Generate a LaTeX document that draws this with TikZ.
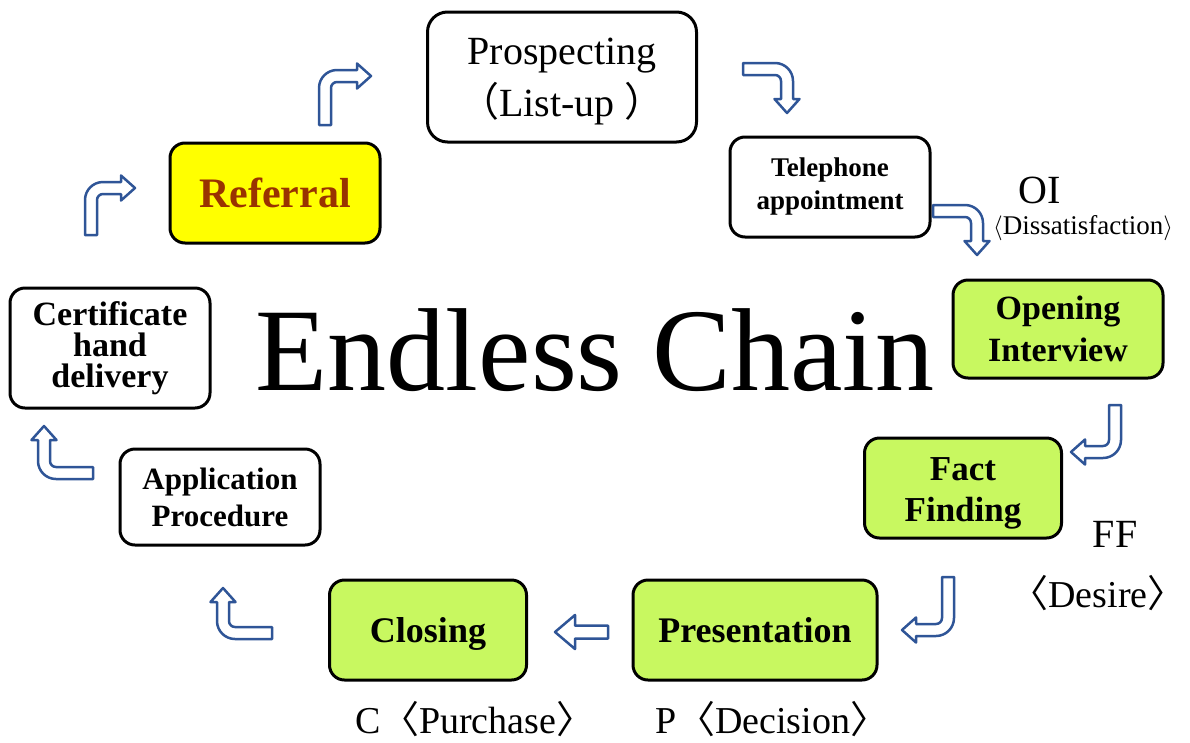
\documentclass[tikz,border=0pt]{standalone}
\usepackage{fontspec}
\setmainfont{Liberation Serif}
\newfontfamily\cjk{Noto Sans CJK SC}
\definecolor{arrblue}{RGB}{47,85,151}
\definecolor{lgreen}{RGB}{200,248,96}
\definecolor{refyellow}{RGB}{255,255,0}
\definecolor{refbrown}{RGB}{153,51,0}
\newcommand\arA{6}
\newcommand\arH{12.5}
\newcommand\arL{14}
\newcommand\arR{12}
\newcommand\arK{0.5523}
\tikzset{
  box/.style={draw=black, line width=3pt, rounded corners=15pt, align=center, inner sep=0pt, text=black},
  plainbox/.style={box, fill=white},
  greenbox/.style={box, fill=lgreen},
  blockarrow/.style={draw=arrblue, fill=white, line width=2.5pt, line join=round},
  lbl/.style={anchor=base, inner sep=0pt},
  boxtext/.style={align=center, inner sep=0pt, text=black}
}
\newcommand\bentarr[5]{%
\begin{scope}[shift={(#1,#2)},rotate=#3]
\def\La{#4}\def\Lb{#5}
\path[blockarrow] (0,-\arA) -- ({\La-\arR},-\arA)
  .. controls ({\La-\arR+\arK*(\arR+\arA)},-\arA) and ({\La+\arA},{\arR-\arK*(\arR+\arA)}) .. ({\La+\arA},\arR)
  -- ({\La+\arA},{\Lb-\arL}) -- ({\La+\arH},{\Lb-\arL}) -- (\La,\Lb) -- ({\La-\arH},{\Lb-\arL}) -- ({\La-\arA},{\Lb-\arL})
  -- ({\La-\arA},\arR)
  .. controls ({\La-\arA},{\arR-\arK*(\arR-\arA)}) and ({\La-\arR+\arK*(\arR-\arA)},\arA) .. ({\La-\arR},\arA)
  -- (0,\arA) -- cycle;
\end{scope}}
\begin{document}
\begin{tikzpicture}[x=1pt,y=-1pt]
\useasboundingbox (0,0) rectangle (1190,742);
% boxes
\node[plainbox, rounded corners=20pt, minimum width=269pt, minimum height=130pt,
  label={[boxtext, font=\fontsize{40}{52}\selectfont, yshift=-5pt]center:Prospecting\\{\cjk （}List-up {\cjk ）}}] (prosp) at (562,77) {};
\node[plainbox, font=\fontsize{27}{33}\selectfont\bfseries, minimum width=200pt, minimum height=100pt] (tel) at (830,187)
  {Telephone\\appointment};
\node[box, fill=refyellow, text=refbrown, font=\fontsize{42}{44}\selectfont\bfseries,
  minimum width=210pt, minimum height=100pt] (ref) at (275,193) {Referral};
\node[greenbox, font=\fontsize{34}{42}\selectfont\bfseries, minimum width=210pt, minimum height=98pt] (oi) at (1058,329)
  {Opening\\Interview};
\node[plainbox, font=\fontsize{34}{31}\selectfont\bfseries, minimum width=200pt, minimum height=120pt] (cert) at (110,348)
  {Certificate\\hand\\delivery};
\node[greenbox, minimum width=197pt, minimum height=100pt,
  label={[boxtext, font=\fontsize{35}{41}\selectfont\bfseries, yshift=-5pt]center:Fact\\Finding}] (ff) at (963,488) {};
\node[plainbox, font=\fontsize{31}{37}\selectfont\bfseries, minimum width=200pt, minimum height=96pt] (app) at (220,497)
  {Application\\Procedure};
\node[greenbox, font=\fontsize{36}{40}\selectfont\bfseries, minimum width=197pt, minimum height=100pt, text height=33pt] (clos) at (428,630)
  {Closing};
\node[greenbox, font=\fontsize{36}{40}\selectfont\bfseries, minimum width=244pt, minimum height=100pt] (pres) at (755,630)
  {Presentation};
% title
\node[lbl, font=\fontsize{118}{130}\selectfont] (title) at (595,390) {Endless Chain};
% labels
\node[lbl, font=\fontsize{40}{44}\selectfont] (oil) at (1040,203) {OI};
\node[lbl, font=\fontsize{27}{30}\selectfont] (oid) at (1083,234) {$\langle$Dissatisfaction$\rangle$};
\node[lbl, font=\fontsize{40}{44}\selectfont] (ffl) at (1115,547) {FF};
\node[lbl, font=\fontsize{38}{44}\selectfont] (ffd) at (1098,607) {{\cjk 〈}Desire{\cjk 〉}};
\node[lbl, font=\fontsize{38}{42}\selectfont] (cl) at (475,733) {C{\cjk 〈}Purchase{\cjk 〉}};
\node[lbl, font=\fontsize{38}{42}\selectfont] (pl) at (772,733) {P{\cjk 〈}Decision{\cjk 〉}};
% bent arrows: tail x, tail y, rotation, first leg, second leg
\bentarr{325}{125}{90}{49}{46}
\bentarr{743}{69}{0}{44}{44}
\bentarr{933}{211}{0}{44}{44}
\bentarr{1115}{405}{-90}{47}{44}
\bentarr{948}{577}{-90}{53}{46}
\bentarr{272}{633}{180}{49}{45}
\bentarr{93}{473}{180}{49}{47}
\bentarr{91}{235}{90}{47}{44}
% straight arrow between Presentation and Closing
\path[blockarrow] (608,625.5) -- (575,625.5) -- (575,615) -- (555,632) -- (575,649) -- (575,638.5) -- (608,638.5) -- cycle;
\end{tikzpicture}
\end{document}
